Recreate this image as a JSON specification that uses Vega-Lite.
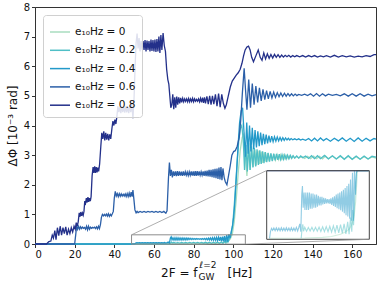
{
"$schema":"https://vega.github.io/schema/vega-lite/v6.json",
"width":341,"height":237,
"autosize":{"type":"none"},
"padding":{"left":35,"top":7,"right":5,"bottom":41},
"datasets":{
"box":[{"x":48.7,"x2":106.1,"y":-0.005,"y2":0.31}],
"links":[{"x":48.7,"y":0.31,"x2":116.7,"y2":2.476},{"x":106.1,"y":-0.005,"x2":168.4,"y2":0.159}],
"curves":[
{"e":0,"x":0,"y":0},{"e":0,"x":50,"y":0},{"e":0,"x":70,"y":0.001},{"e":0,"x":80,"y":0.004},{"e":0,"x":85,"y":0.008},{"e":0,"x":90,"y":0.018},{"e":0,"x":93,"y":0.03},{"e":0,"x":95,"y":0.043},{"e":0,"x":96.5,"y":0.065},{"e":0,"x":97.6,"y":0.1},{"e":0,"x":98.5,"y":0.17},{"e":0,"x":99.5,"y":0.33},{"e":0,"x":100.5,"y":0.75},{"e":0,"x":101.5,"y":1.5},{"e":0,"x":102.5,"y":2.4},{"e":0,"x":103.5,"y":3.15},{"e":0,"x":104.5,"y":3.6},{"e":0,"x":105.3,"y":3.7},{"e":0,"x":106.1,"y":3.0},{"e":0,"x":106.9,"y":2.3},{"e":0,"x":107.7,"y":3.3},{"e":0,"x":108.5,"y":2.5},{"e":0,"x":109.3,"y":3.25},{"e":0,"x":110.1,"y":2.6},{"e":0,"x":110.9,"y":3.2},{"e":0,"x":111.7,"y":2.65},{"e":0,"x":112.5,"y":3.15},{"e":0,"x":113.3,"y":2.7},{"e":0,"x":114.1,"y":3.12},{"e":0,"x":114.9,"y":2.74},{"e":0,"x":115.7,"y":3.09},{"e":0,"x":116.5,"y":2.77},{"e":0,"x":117.3,"y":3.07},{"e":0,"x":118.1,"y":2.79},{"e":0,"x":118.9,"y":3.05},{"e":0,"x":119.7,"y":2.81},{"e":0,"x":120.5,"y":3.03},{"e":0,"x":121.3,"y":2.83},{"e":0,"x":122.1,"y":3.02},{"e":0,"x":122.9,"y":2.85},{"e":0,"x":123.7,"y":3.01},{"e":0,"x":124.5,"y":2.86},{"e":0,"x":125.3,"y":3.0},{"e":0,"x":126.1,"y":2.87},{"e":0,"x":126.9,"y":2.99},{"e":0,"x":127.7,"y":2.88},{"e":0,"x":128.5,"y":2.98},{"e":0,"x":129.3,"y":2.89},{"e":0,"x":130.1,"y":2.97},{"e":0,"x":131,"y":2.9},{"e":0,"x":132,"y":2.96},{"e":0,"x":133,"y":2.9},{"e":0,"x":134.5,"y":2.95},{"e":0,"x":136,"y":2.89},{"e":0,"x":137.5,"y":2.96},{"e":0,"x":139,"y":2.88},{"e":0,"x":140.5,"y":2.97},{"e":0,"x":142,"y":2.88},{"e":0,"x":143.5,"y":2.96},{"e":0,"x":145,"y":2.87},{"e":0,"x":146.5,"y":2.97},{"e":0,"x":148,"y":2.88},{"e":0,"x":150,"y":2.97},{"e":0,"x":152,"y":2.87},{"e":0,"x":154,"y":2.96},{"e":0,"x":156,"y":2.87},{"e":0,"x":158,"y":2.96},{"e":0,"x":160,"y":2.86},{"e":0,"x":162,"y":2.95},{"e":0,"x":164,"y":2.86},{"e":0,"x":166,"y":2.95},{"e":0,"x":168,"y":2.87},{"e":0,"x":170,"y":2.94},{"e":0,"x":172,"y":2.9},
{"e":0.2,"x":0,"y":0},{"e":0.2,"x":68,"y":0},{"e":0.2,"x":68.5,"y":0.045},{"e":0.2,"x":68.9,"y":0.064},{"e":0.2,"x":69.3,"y":0.032},{"e":0.2,"x":70,"y":0.05},{"e":0.2,"x":71,"y":0.032},{"e":0.2,"x":72,"y":0.049},{"e":0.2,"x":73,"y":0.033},{"e":0.2,"x":74,"y":0.05},{"e":0.2,"x":75,"y":0.032},{"e":0.2,"x":76,"y":0.05},{"e":0.2,"x":77,"y":0.032},{"e":0.2,"x":78,"y":0.051},{"e":0.2,"x":79,"y":0.031},{"e":0.2,"x":80,"y":0.052},{"e":0.2,"x":81,"y":0.03},{"e":0.2,"x":82,"y":0.053},{"e":0.2,"x":83,"y":0.03},{"e":0.2,"x":84,"y":0.055},{"e":0.2,"x":85,"y":0.028},{"e":0.2,"x":86,"y":0.057},{"e":0.2,"x":87,"y":0.027},{"e":0.2,"x":88,"y":0.06},{"e":0.2,"x":89,"y":0.025},{"e":0.2,"x":90,"y":0.062},{"e":0.2,"x":91,"y":0.023},{"e":0.2,"x":92,"y":0.066},{"e":0.2,"x":93,"y":0.02},{"e":0.2,"x":94,"y":0.075},{"e":0.2,"x":94.8,"y":0.018},{"e":0.2,"x":95.6,"y":0.095},{"e":0.2,"x":96.3,"y":0.03},{"e":0.2,"x":96.8,"y":0.13},{"e":0.2,"x":97.3,"y":0.06},{"e":0.2,"x":98,"y":0.18},{"e":0.2,"x":98.8,"y":0.3},{"e":0.2,"x":99.6,"y":0.6},{"e":0.2,"x":100.4,"y":1.2},{"e":0.2,"x":101.2,"y":2.0},{"e":0.2,"x":102,"y":2.8},{"e":0.2,"x":102.8,"y":3.5},{"e":0.2,"x":103.6,"y":3.9},{"e":0.2,"x":104.3,"y":4.0},{"e":0.2,"x":105,"y":3.55},{"e":0.2,"x":105.7,"y":2.5},{"e":0.2,"x":106.4,"y":3.35},{"e":0.2,"x":107.1,"y":2.45},{"e":0.2,"x":107.8,"y":3.4},{"e":0.2,"x":108.5,"y":2.5},{"e":0.2,"x":109.2,"y":3.3},{"e":0.2,"x":109.9,"y":2.58},{"e":0.2,"x":110.6,"y":3.25},{"e":0.2,"x":111.3,"y":2.62},{"e":0.2,"x":112,"y":3.2},{"e":0.2,"x":112.7,"y":2.67},{"e":0.2,"x":113.4,"y":3.16},{"e":0.2,"x":114.1,"y":2.7},{"e":0.2,"x":114.8,"y":3.13},{"e":0.2,"x":115.5,"y":2.73},{"e":0.2,"x":116.2,"y":3.1},{"e":0.2,"x":116.9,"y":2.76},{"e":0.2,"x":117.6,"y":3.08},{"e":0.2,"x":118.3,"y":2.78},{"e":0.2,"x":119,"y":3.06},{"e":0.2,"x":119.7,"y":2.8},{"e":0.2,"x":120.4,"y":3.05},{"e":0.2,"x":121.1,"y":2.82},{"e":0.2,"x":121.8,"y":3.04},{"e":0.2,"x":122.5,"y":2.84},{"e":0.2,"x":123.2,"y":3.03},{"e":0.2,"x":123.9,"y":2.85},{"e":0.2,"x":124.6,"y":3.02},{"e":0.2,"x":125.3,"y":2.86},{"e":0.2,"x":126,"y":3.01},{"e":0.2,"x":126.7,"y":2.87},{"e":0.2,"x":127.4,"y":3.0},{"e":0.2,"x":128.1,"y":2.88},{"e":0.2,"x":128.8,"y":2.99},{"e":0.2,"x":129.5,"y":2.89},{"e":0.2,"x":130.2,"y":2.98},{"e":0.2,"x":131,"y":2.9},{"e":0.2,"x":132,"y":2.97},{"e":0.2,"x":133,"y":2.9},{"e":0.2,"x":134,"y":2.97},{"e":0.2,"x":135,"y":2.91},{"e":0.2,"x":136.5,"y":2.97},{"e":0.2,"x":138,"y":2.89},{"e":0.2,"x":139.5,"y":2.98},{"e":0.2,"x":141,"y":2.88},{"e":0.2,"x":142.5,"y":2.98},{"e":0.2,"x":144,"y":2.88},{"e":0.2,"x":146,"y":2.99},{"e":0.2,"x":148,"y":2.87},{"e":0.2,"x":150,"y":2.98},{"e":0.2,"x":152,"y":2.87},{"e":0.2,"x":154,"y":2.98},{"e":0.2,"x":156,"y":2.86},{"e":0.2,"x":158,"y":2.98},{"e":0.2,"x":160,"y":2.86},{"e":0.2,"x":162,"y":2.97},{"e":0.2,"x":164,"y":2.86},{"e":0.2,"x":166,"y":2.97},{"e":0.2,"x":168,"y":2.87},{"e":0.2,"x":170,"y":2.96},{"e":0.2,"x":172,"y":2.93},
{"e":0.4,"x":0,"y":0},{"e":0.4,"x":50.3,"y":0},{"e":0.4,"x":50.8,"y":0.03},{"e":0.4,"x":51.4,"y":0.045},{"e":0.4,"x":52,"y":0.036},{"e":0.4,"x":52.7,"y":0.047},{"e":0.4,"x":53.4,"y":0.035},{"e":0.4,"x":54.1,"y":0.048},{"e":0.4,"x":54.8,"y":0.035},{"e":0.4,"x":55.5,"y":0.047},{"e":0.4,"x":56.2,"y":0.034},{"e":0.4,"x":56.9,"y":0.048},{"e":0.4,"x":57.6,"y":0.035},{"e":0.4,"x":58.3,"y":0.047},{"e":0.4,"x":59,"y":0.034},{"e":0.4,"x":59.7,"y":0.048},{"e":0.4,"x":60.4,"y":0.035},{"e":0.4,"x":61.1,"y":0.047},{"e":0.4,"x":61.8,"y":0.034},{"e":0.4,"x":62.5,"y":0.048},{"e":0.4,"x":63.2,"y":0.035},{"e":0.4,"x":63.9,"y":0.047},{"e":0.4,"x":64.6,"y":0.034},{"e":0.4,"x":65.3,"y":0.05},{"e":0.4,"x":66,"y":0.033},{"e":0.4,"x":66.6,"y":0.048},{"e":0.4,"x":67.2,"y":0.066},{"e":0.4,"x":67.8,"y":0.03},{"e":0.4,"x":68.3,"y":0.2},{"e":0.4,"x":68.7,"y":0.24},{"e":0.4,"x":69.1,"y":0.14},{"e":0.4,"x":69.6,"y":0.21},{"e":0.4,"x":70.1,"y":0.13},{"e":0.4,"x":70.6,"y":0.21},{"e":0.4,"x":71.1,"y":0.13},{"e":0.4,"x":71.6,"y":0.21},{"e":0.4,"x":72.1,"y":0.13},{"e":0.4,"x":72.6,"y":0.21},{"e":0.4,"x":73.1,"y":0.135},{"e":0.4,"x":73.6,"y":0.205},{"e":0.4,"x":74.1,"y":0.135},{"e":0.4,"x":74.6,"y":0.205},{"e":0.4,"x":75.1,"y":0.14},{"e":0.4,"x":75.6,"y":0.2},{"e":0.4,"x":76.1,"y":0.14},{"e":0.4,"x":76.6,"y":0.2},{"e":0.4,"x":77.1,"y":0.145},{"e":0.4,"x":77.6,"y":0.195},{"e":0.4,"x":78.1,"y":0.15},{"e":0.4,"x":78.6,"y":0.19},{"e":0.4,"x":79.1,"y":0.15},{"e":0.4,"x":79.6,"y":0.19},{"e":0.4,"x":80.1,"y":0.155},{"e":0.4,"x":80.6,"y":0.185},{"e":0.4,"x":81.1,"y":0.157},{"e":0.4,"x":81.6,"y":0.183},{"e":0.4,"x":82.1,"y":0.16},{"e":0.4,"x":82.6,"y":0.18},{"e":0.4,"x":83.1,"y":0.16},{"e":0.4,"x":83.6,"y":0.18},{"e":0.4,"x":84.1,"y":0.157},{"e":0.4,"x":84.6,"y":0.183},{"e":0.4,"x":85.1,"y":0.153},{"e":0.4,"x":85.6,"y":0.188},{"e":0.4,"x":86.1,"y":0.148},{"e":0.4,"x":86.6,"y":0.193},{"e":0.4,"x":87.1,"y":0.143},{"e":0.4,"x":87.6,"y":0.2},{"e":0.4,"x":88.1,"y":0.138},{"e":0.4,"x":88.6,"y":0.205},{"e":0.4,"x":89.1,"y":0.133},{"e":0.4,"x":89.6,"y":0.21},{"e":0.4,"x":90.1,"y":0.128},{"e":0.4,"x":90.6,"y":0.215},{"e":0.4,"x":91.1,"y":0.122},{"e":0.4,"x":91.6,"y":0.222},{"e":0.4,"x":92.1,"y":0.115},{"e":0.4,"x":92.6,"y":0.23},{"e":0.4,"x":93.1,"y":0.105},{"e":0.4,"x":93.6,"y":0.24},{"e":0.4,"x":94.1,"y":0.1},{"e":0.4,"x":94.6,"y":0.25},{"e":0.4,"x":95.1,"y":0.09},{"e":0.4,"x":95.6,"y":0.27},{"e":0.4,"x":96.1,"y":0.08},{"e":0.4,"x":96.7,"y":0.3},{"e":0.4,"x":97.2,"y":0.08},{"e":0.4,"x":97.8,"y":0.33},{"e":0.4,"x":98.4,"y":0.2},{"e":0.4,"x":99,"y":0.42},{"e":0.4,"x":99.6,"y":0.6},{"e":0.4,"x":100.2,"y":0.9},{"e":0.4,"x":100.8,"y":1.4},{"e":0.4,"x":101.6,"y":2.3},{"e":0.4,"x":102.4,"y":3.3},{"e":0.4,"x":103.2,"y":4.1},{"e":0.4,"x":104,"y":4.5},{"e":0.4,"x":104.7,"y":4.6},{"e":0.4,"x":105.4,"y":3.8},{"e":0.4,"x":106.1,"y":2.95},{"e":0.4,"x":106.8,"y":4.1},{"e":0.4,"x":107.5,"y":3.05},{"e":0.4,"x":108.2,"y":4.0},{"e":0.4,"x":108.9,"y":3.12},{"e":0.4,"x":109.6,"y":3.92},{"e":0.4,"x":110.3,"y":3.2},{"e":0.4,"x":111,"y":3.85},{"e":0.4,"x":111.7,"y":3.26},{"e":0.4,"x":112.4,"y":3.8},{"e":0.4,"x":113.1,"y":3.3},{"e":0.4,"x":113.8,"y":3.76},{"e":0.4,"x":114.5,"y":3.34},{"e":0.4,"x":115.2,"y":3.72},{"e":0.4,"x":115.9,"y":3.37},{"e":0.4,"x":116.6,"y":3.69},{"e":0.4,"x":117.3,"y":3.4},{"e":0.4,"x":118,"y":3.66},{"e":0.4,"x":118.7,"y":3.43},{"e":0.4,"x":119.4,"y":3.64},{"e":0.4,"x":120.1,"y":3.45},{"e":0.4,"x":120.8,"y":3.62},{"e":0.4,"x":121.5,"y":3.47},{"e":0.4,"x":122.2,"y":3.61},{"e":0.4,"x":122.9,"y":3.48},{"e":0.4,"x":123.6,"y":3.6},{"e":0.4,"x":124.3,"y":3.49},{"e":0.4,"x":125,"y":3.59},{"e":0.4,"x":125.7,"y":3.5},{"e":0.4,"x":126.4,"y":3.58},{"e":0.4,"x":127.1,"y":3.51},{"e":0.4,"x":127.8,"y":3.57},{"e":0.4,"x":128.5,"y":3.51},{"e":0.4,"x":129.2,"y":3.56},{"e":0.4,"x":130,"y":3.52},{"e":0.4,"x":131,"y":3.55},{"e":0.4,"x":132,"y":3.52},{"e":0.4,"x":133,"y":3.55},{"e":0.4,"x":134,"y":3.51},{"e":0.4,"x":135,"y":3.54},{"e":0.4,"x":136.5,"y":3.5},{"e":0.4,"x":138,"y":3.56},{"e":0.4,"x":139.5,"y":3.48},{"e":0.4,"x":141,"y":3.57},{"e":0.4,"x":142.5,"y":3.48},{"e":0.4,"x":144,"y":3.58},{"e":0.4,"x":145.5,"y":3.49},{"e":0.4,"x":147,"y":3.56},{"e":0.4,"x":149,"y":3.47},{"e":0.4,"x":151,"y":3.57},{"e":0.4,"x":153,"y":3.48},{"e":0.4,"x":155,"y":3.58},{"e":0.4,"x":157,"y":3.47},{"e":0.4,"x":159,"y":3.57},{"e":0.4,"x":161,"y":3.46},{"e":0.4,"x":163,"y":3.58},{"e":0.4,"x":165,"y":3.47},{"e":0.4,"x":167,"y":3.57},{"e":0.4,"x":169,"y":3.48},{"e":0.4,"x":171,"y":3.56},{"e":0.4,"x":172,"y":3.54},
{"e":0.6,"x":0,"y":0},{"e":0.6,"x":20,"y":0},{"e":0.6,"x":20.6,"y":0.35},{"e":0.6,"x":21,"y":0.62},{"e":0.6,"x":21.5,"y":0.5},{"e":0.6,"x":22,"y":0.6},{"e":0.6,"x":22.5,"y":0.5},{"e":0.6,"x":23,"y":0.58},{"e":0.6,"x":23.5,"y":0.52},{"e":0.6,"x":24,"y":0.57},{"e":0.6,"x":24.5,"y":0.53},{"e":0.6,"x":25,"y":0.56},{"e":0.6,"x":25.5,"y":0.5},{"e":0.6,"x":26,"y":0.6},{"e":0.6,"x":26.5,"y":0.48},{"e":0.6,"x":27,"y":0.6},{"e":0.6,"x":27.5,"y":0.5},{"e":0.6,"x":28,"y":0.57},{"e":0.6,"x":28.5,"y":0.53},{"e":0.6,"x":29,"y":0.56},{"e":0.6,"x":29.5,"y":0.54},{"e":0.6,"x":30,"y":0.57},{"e":0.6,"x":30.5,"y":0.52},{"e":0.6,"x":31,"y":0.58},{"e":0.6,"x":31.5,"y":0.51},{"e":0.6,"x":32,"y":0.6},{"e":0.6,"x":32.5,"y":0.52},{"e":0.6,"x":33,"y":0.65},{"e":0.6,"x":33.5,"y":0.9},{"e":0.6,"x":34,"y":1.0},{"e":0.6,"x":34.5,"y":0.95},{"e":0.6,"x":35,"y":1.0},{"e":0.6,"x":35.5,"y":0.95},{"e":0.6,"x":36,"y":1.01},{"e":0.6,"x":36.5,"y":0.94},{"e":0.6,"x":37,"y":1.02},{"e":0.6,"x":37.5,"y":0.93},{"e":0.6,"x":38,"y":1.0},{"e":0.6,"x":38.5,"y":0.95},{"e":0.6,"x":39,"y":1.02},{"e":0.6,"x":39.5,"y":1.1},{"e":0.6,"x":40,"y":1.55},{"e":0.6,"x":40.5,"y":1.78},{"e":0.6,"x":41,"y":1.62},{"e":0.6,"x":41.5,"y":1.7},{"e":0.6,"x":42,"y":1.6},{"e":0.6,"x":42.5,"y":1.7},{"e":0.6,"x":43,"y":1.61},{"e":0.6,"x":43.5,"y":1.69},{"e":0.6,"x":44,"y":1.62},{"e":0.6,"x":44.5,"y":1.68},{"e":0.6,"x":45,"y":1.62},{"e":0.6,"x":45.5,"y":1.69},{"e":0.6,"x":46,"y":1.6},{"e":0.6,"x":46.5,"y":1.7},{"e":0.6,"x":47,"y":1.6},{"e":0.6,"x":47.5,"y":1.72},{"e":0.6,"x":48,"y":1.58},{"e":0.6,"x":48.5,"y":1.75},{"e":0.6,"x":49,"y":1.6},{"e":0.6,"x":49.4,"y":1.82},{"e":0.6,"x":49.9,"y":1.5},{"e":0.6,"x":50.4,"y":1.15},{"e":0.6,"x":51,"y":1.05},{"e":0.6,"x":51.5,"y":1.1},{"e":0.6,"x":52,"y":1.06},{"e":0.6,"x":53,"y":1.1},{"e":0.6,"x":54,"y":1.07},{"e":0.6,"x":55,"y":1.1},{"e":0.6,"x":56,"y":1.07},{"e":0.6,"x":57,"y":1.1},{"e":0.6,"x":58,"y":1.08},{"e":0.6,"x":59,"y":1.1},{"e":0.6,"x":60,"y":1.07},{"e":0.6,"x":61,"y":1.1},{"e":0.6,"x":62,"y":1.07},{"e":0.6,"x":63,"y":1.1},{"e":0.6,"x":64,"y":1.06},{"e":0.6,"x":65,"y":1.1},{"e":0.6,"x":66,"y":1.04},{"e":0.6,"x":66.6,"y":1.12},{"e":0.6,"x":67.3,"y":2.2},{"e":0.6,"x":67.8,"y":2.75},{"e":0.6,"x":68.3,"y":2.3},{"e":0.6,"x":68.8,"y":2.5},{"e":0.6,"x":69.3,"y":2.25},{"e":0.6,"x":69.8,"y":2.45},{"e":0.6,"x":70.3,"y":2.3},{"e":0.6,"x":70.8,"y":2.45},{"e":0.6,"x":71.3,"y":2.29},{"e":0.6,"x":71.8,"y":2.46},{"e":0.6,"x":72.3,"y":2.3},{"e":0.6,"x":72.8,"y":2.45},{"e":0.6,"x":73.3,"y":2.31},{"e":0.6,"x":73.8,"y":2.44},{"e":0.6,"x":74.3,"y":2.3},{"e":0.6,"x":74.8,"y":2.45},{"e":0.6,"x":75.3,"y":2.31},{"e":0.6,"x":75.8,"y":2.44},{"e":0.6,"x":76.3,"y":2.32},{"e":0.6,"x":76.8,"y":2.43},{"e":0.6,"x":77.3,"y":2.31},{"e":0.6,"x":77.8,"y":2.44},{"e":0.6,"x":78.3,"y":2.32},{"e":0.6,"x":78.8,"y":2.45},{"e":0.6,"x":79.3,"y":2.31},{"e":0.6,"x":79.8,"y":2.45},{"e":0.6,"x":80.3,"y":2.3},{"e":0.6,"x":80.8,"y":2.46},{"e":0.6,"x":81.3,"y":2.3},{"e":0.6,"x":81.8,"y":2.46},{"e":0.6,"x":82.3,"y":2.31},{"e":0.6,"x":82.8,"y":2.45},{"e":0.6,"x":83.3,"y":2.32},{"e":0.6,"x":83.8,"y":2.44},{"e":0.6,"x":84.3,"y":2.32},{"e":0.6,"x":84.8,"y":2.45},{"e":0.6,"x":85.3,"y":2.3},{"e":0.6,"x":85.8,"y":2.47},{"e":0.6,"x":86.3,"y":2.29},{"e":0.6,"x":86.8,"y":2.48},{"e":0.6,"x":87.3,"y":2.28},{"e":0.6,"x":87.8,"y":2.5},{"e":0.6,"x":88.3,"y":2.27},{"e":0.6,"x":88.8,"y":2.5},{"e":0.6,"x":89.3,"y":2.26},{"e":0.6,"x":89.8,"y":2.52},{"e":0.6,"x":90.3,"y":2.24},{"e":0.6,"x":90.8,"y":2.54},{"e":0.6,"x":91.3,"y":2.22},{"e":0.6,"x":91.8,"y":2.55},{"e":0.6,"x":92.3,"y":2.2},{"e":0.6,"x":92.8,"y":2.58},{"e":0.6,"x":93.3,"y":2.18},{"e":0.6,"x":93.8,"y":2.6},{"e":0.6,"x":94.3,"y":2.15},{"e":0.6,"x":94.8,"y":2.55},{"e":0.6,"x":95.4,"y":2.25},{"e":0.6,"x":96,"y":2.1},{"e":0.6,"x":96.8,"y":2.0},{"e":0.6,"x":97.6,"y":2.3},{"e":0.6,"x":98.5,"y":2.65},{"e":0.6,"x":99.3,"y":3.0},{"e":0.6,"x":100.2,"y":3.12},{"e":0.6,"x":101,"y":3.15},{"e":0.6,"x":102,"y":3.3},{"e":0.6,"x":103,"y":3.6},{"e":0.6,"x":103.8,"y":4.2},{"e":0.6,"x":104.6,"y":5.1},{"e":0.6,"x":105.5,"y":5.93},{"e":0.6,"x":106.2,"y":5.2},{"e":0.6,"x":106.9,"y":4.53},{"e":0.6,"x":107.8,"y":5.55},{"e":0.6,"x":108.7,"y":4.6},{"e":0.6,"x":109.6,"y":5.42},{"e":0.6,"x":110.5,"y":4.7},{"e":0.6,"x":111.4,"y":5.33},{"e":0.6,"x":112.3,"y":4.78},{"e":0.6,"x":113.2,"y":5.27},{"e":0.6,"x":114.1,"y":4.83},{"e":0.6,"x":115,"y":5.22},{"e":0.6,"x":115.9,"y":4.87},{"e":0.6,"x":116.8,"y":5.18},{"e":0.6,"x":117.7,"y":4.9},{"e":0.6,"x":118.6,"y":5.15},{"e":0.6,"x":119.5,"y":4.93},{"e":0.6,"x":120.4,"y":5.13},{"e":0.6,"x":121.3,"y":4.95},{"e":0.6,"x":122.2,"y":5.11},{"e":0.6,"x":123.1,"y":4.97},{"e":0.6,"x":124,"y":5.1},{"e":0.6,"x":124.9,"y":4.98},{"e":0.6,"x":125.8,"y":5.09},{"e":0.6,"x":126.7,"y":4.99},{"e":0.6,"x":127.6,"y":5.08},{"e":0.6,"x":128.5,"y":5.0},{"e":0.6,"x":129.4,"y":5.07},{"e":0.6,"x":130.3,"y":5.0},{"e":0.6,"x":131.2,"y":5.06},{"e":0.6,"x":132.1,"y":5.01},{"e":0.6,"x":133,"y":5.05},{"e":0.6,"x":134.5,"y":5.02},{"e":0.6,"x":136,"y":5.06},{"e":0.6,"x":137.5,"y":5.01},{"e":0.6,"x":139,"y":5.07},{"e":0.6,"x":140.5,"y":4.99},{"e":0.6,"x":142,"y":5.08},{"e":0.6,"x":143.5,"y":4.99},{"e":0.6,"x":145,"y":5.07},{"e":0.6,"x":146.5,"y":5.0},{"e":0.6,"x":148,"y":5.06},{"e":0.6,"x":150,"y":5.02},{"e":0.6,"x":152,"y":5.05},{"e":0.6,"x":154,"y":5.0},{"e":0.6,"x":156,"y":5.07},{"e":0.6,"x":158,"y":4.99},{"e":0.6,"x":160,"y":5.07},{"e":0.6,"x":162,"y":4.99},{"e":0.6,"x":164,"y":5.07},{"e":0.6,"x":166,"y":4.99},{"e":0.6,"x":168,"y":5.06},{"e":0.6,"x":170,"y":5.0},{"e":0.6,"x":172,"y":5.04},
{"e":0.8,"x":0,"y":0},{"e":0.8,"x":5.8,"y":0},{"e":0.8,"x":7,"y":0.08},{"e":0.8,"x":8,"y":0.1},{"e":0.8,"x":8.7,"y":0.3},{"e":0.8,"x":9.3,"y":0.2},{"e":0.8,"x":10,"y":0.45},{"e":0.8,"x":10.6,"y":0.15},{"e":0.8,"x":11.3,"y":0.55},{"e":0.8,"x":12,"y":0.28},{"e":0.8,"x":12.7,"y":0.6},{"e":0.8,"x":13.4,"y":0.3},{"e":0.8,"x":14.1,"y":0.55},{"e":0.8,"x":14.8,"y":0.35},{"e":0.8,"x":15.5,"y":0.58},{"e":0.8,"x":16.2,"y":0.3},{"e":0.8,"x":16.9,"y":0.5},{"e":0.8,"x":17.6,"y":0.35},{"e":0.8,"x":18.3,"y":0.55},{"e":0.8,"x":19,"y":0.4},{"e":0.8,"x":19.7,"y":0.6},{"e":0.8,"x":20.3,"y":0.5},{"e":0.8,"x":20.8,"y":0.72},{"e":0.8,"x":21.3,"y":0.6},{"e":0.8,"x":21.8,"y":0.75},{"e":0.8,"x":22.3,"y":1.05},{"e":0.8,"x":22.7,"y":0.92},{"e":0.8,"x":23.1,"y":1.08},{"e":0.8,"x":23.5,"y":0.95},{"e":0.8,"x":23.9,"y":1.05},{"e":0.8,"x":24.3,"y":0.97},{"e":0.8,"x":24.7,"y":1.1},{"e":0.8,"x":25.1,"y":1.45},{"e":0.8,"x":25.5,"y":1.38},{"e":0.8,"x":25.9,"y":1.55},{"e":0.8,"x":26.3,"y":1.4},{"e":0.8,"x":26.7,"y":1.58},{"e":0.8,"x":27.1,"y":1.42},{"e":0.8,"x":27.5,"y":1.55},{"e":0.8,"x":27.9,"y":1.45},{"e":0.8,"x":28.3,"y":1.6},{"e":0.8,"x":28.8,"y":2.3},{"e":0.8,"x":29.3,"y":2.6},{"e":0.8,"x":29.7,"y":2.4},{"e":0.8,"x":30.1,"y":2.62},{"e":0.8,"x":30.5,"y":2.4},{"e":0.8,"x":30.9,"y":2.6},{"e":0.8,"x":31.3,"y":2.42},{"e":0.8,"x":31.7,"y":2.58},{"e":0.8,"x":32.1,"y":2.45},{"e":0.8,"x":32.6,"y":2.7},{"e":0.8,"x":33.2,"y":3.3},{"e":0.8,"x":33.7,"y":3.75},{"e":0.8,"x":34.2,"y":3.55},{"e":0.8,"x":34.7,"y":3.8},{"e":0.8,"x":35.2,"y":3.5},{"e":0.8,"x":35.7,"y":3.75},{"e":0.8,"x":36.2,"y":3.52},{"e":0.8,"x":36.7,"y":3.72},{"e":0.8,"x":37.2,"y":3.5},{"e":0.8,"x":37.7,"y":3.7},{"e":0.8,"x":38.2,"y":3.55},{"e":0.8,"x":38.8,"y":3.9},{"e":0.8,"x":39.3,"y":4.15},{"e":0.8,"x":39.8,"y":4.0},{"e":0.8,"x":40.3,"y":4.2},{"e":0.8,"x":40.8,"y":4.05},{"e":0.8,"x":41.3,"y":4.3},{"e":0.8,"x":41.8,"y":4.65},{"e":0.8,"x":42.3,"y":4.45},{"e":0.8,"x":42.8,"y":4.62},{"e":0.8,"x":43.3,"y":4.42},{"e":0.8,"x":43.8,"y":4.65},{"e":0.8,"x":44.3,"y":4.45},{"e":0.8,"x":44.8,"y":4.62},{"e":0.8,"x":45.3,"y":4.43},{"e":0.8,"x":45.8,"y":4.65},{"e":0.8,"x":46.3,"y":4.44},{"e":0.8,"x":46.8,"y":4.63},{"e":0.8,"x":47.3,"y":4.42},{"e":0.8,"x":47.8,"y":4.68},{"e":0.8,"x":48.3,"y":4.45},{"e":0.8,"x":48.8,"y":4.75},{"e":0.8,"x":49.4,"y":4.25},{"e":0.8,"x":49.9,"y":4.8},{"e":0.8,"x":50.5,"y":6.0},{"e":0.8,"x":51,"y":6.8},{"e":0.8,"x":51.5,"y":7.1},{"e":0.8,"x":52,"y":6.6},{"e":0.8,"x":52.5,"y":6.95},{"e":0.8,"x":53,"y":6.5},{"e":0.8,"x":53.5,"y":6.85},{"e":0.8,"x":54,"y":6.55},{"e":0.8,"x":54.5,"y":6.85},{"e":0.8,"x":55,"y":6.55},{"e":0.8,"x":55.5,"y":6.88},{"e":0.8,"x":56,"y":6.5},{"e":0.8,"x":56.5,"y":6.87},{"e":0.8,"x":57,"y":6.55},{"e":0.8,"x":57.5,"y":6.85},{"e":0.8,"x":58,"y":6.5},{"e":0.8,"x":58.5,"y":6.9},{"e":0.8,"x":59,"y":6.52},{"e":0.8,"x":59.5,"y":6.88},{"e":0.8,"x":60,"y":6.5},{"e":0.8,"x":60.5,"y":6.9},{"e":0.8,"x":61,"y":6.48},{"e":0.8,"x":61.5,"y":6.92},{"e":0.8,"x":62,"y":6.5},{"e":0.8,"x":62.5,"y":7.0},{"e":0.8,"x":63,"y":6.45},{"e":0.8,"x":63.5,"y":7.05},{"e":0.8,"x":64,"y":6.55},{"e":0.8,"x":64.6,"y":7.12},{"e":0.8,"x":65.2,"y":6.7},{"e":0.8,"x":65.8,"y":6.5},{"e":0.8,"x":66.4,"y":5.9},{"e":0.8,"x":67,"y":5.55},{"e":0.8,"x":67.5,"y":5.4},{"e":0.8,"x":68,"y":5.0},{"e":0.8,"x":68.5,"y":4.6},{"e":0.8,"x":69,"y":4.7},{"e":0.8,"x":69.5,"y":5.05},{"e":0.8,"x":70,"y":4.55},{"e":0.8,"x":70.5,"y":4.95},{"e":0.8,"x":71,"y":4.6},{"e":0.8,"x":71.5,"y":4.98},{"e":0.8,"x":72,"y":4.7},{"e":0.8,"x":72.5,"y":4.95},{"e":0.8,"x":73,"y":4.75},{"e":0.8,"x":73.5,"y":4.93},{"e":0.8,"x":74,"y":4.78},{"e":0.8,"x":74.5,"y":4.92},{"e":0.8,"x":75,"y":4.8},{"e":0.8,"x":75.5,"y":4.9},{"e":0.8,"x":76,"y":4.81},{"e":0.8,"x":76.5,"y":4.9},{"e":0.8,"x":77,"y":4.8},{"e":0.8,"x":77.5,"y":4.91},{"e":0.8,"x":78,"y":4.8},{"e":0.8,"x":78.5,"y":4.9},{"e":0.8,"x":79,"y":4.81},{"e":0.8,"x":79.5,"y":4.92},{"e":0.8,"x":80,"y":4.8},{"e":0.8,"x":80.5,"y":4.9},{"e":0.8,"x":81,"y":4.82},{"e":0.8,"x":81.5,"y":4.88},{"e":0.8,"x":82,"y":4.82},{"e":0.8,"x":82.5,"y":4.9},{"e":0.8,"x":83,"y":4.8},{"e":0.8,"x":83.5,"y":4.92},{"e":0.8,"x":84,"y":4.78},{"e":0.8,"x":84.5,"y":4.94},{"e":0.8,"x":85,"y":4.76},{"e":0.8,"x":85.5,"y":4.95},{"e":0.8,"x":86,"y":4.75},{"e":0.8,"x":86.7,"y":4.98},{"e":0.8,"x":87.4,"y":4.72},{"e":0.8,"x":88.1,"y":5.0},{"e":0.8,"x":88.8,"y":4.7},{"e":0.8,"x":89.5,"y":5.0},{"e":0.8,"x":90.2,"y":4.72},{"e":0.8,"x":91,"y":5.05},{"e":0.8,"x":91.8,"y":4.65},{"e":0.8,"x":92.6,"y":5.08},{"e":0.8,"x":93.4,"y":4.62},{"e":0.8,"x":94.2,"y":5.05},{"e":0.8,"x":95,"y":4.75},{"e":0.8,"x":95.8,"y":4.58},{"e":0.8,"x":96.5,"y":4.7},{"e":0.8,"x":97.5,"y":5.0},{"e":0.8,"x":98.5,"y":5.3},{"e":0.8,"x":99.5,"y":5.5},{"e":0.8,"x":100.5,"y":5.6},{"e":0.8,"x":101.5,"y":5.7},{"e":0.8,"x":102.5,"y":5.78},{"e":0.8,"x":103.5,"y":5.9},{"e":0.8,"x":104.4,"y":6.1},{"e":0.8,"x":105.2,"y":6.35},{"e":0.8,"x":106,"y":6.55},{"e":0.8,"x":106.9,"y":6.65},{"e":0.8,"x":107.7,"y":6.68},{"e":0.8,"x":108.5,"y":6.55},{"e":0.8,"x":109.3,"y":6.3},{"e":0.8,"x":110.2,"y":6.15},{"e":0.8,"x":111.4,"y":6.35},{"e":0.8,"x":112.6,"y":6.55},{"e":0.8,"x":113.6,"y":6.3},{"e":0.8,"x":114.5,"y":6.2},{"e":0.8,"x":115.4,"y":6.45},{"e":0.8,"x":116.3,"y":6.25},{"e":0.8,"x":117.2,"y":6.42},{"e":0.8,"x":118.1,"y":6.27},{"e":0.8,"x":119,"y":6.4},{"e":0.8,"x":119.9,"y":6.28},{"e":0.8,"x":120.8,"y":6.4},{"e":0.8,"x":121.7,"y":6.3},{"e":0.8,"x":122.6,"y":6.39},{"e":0.8,"x":123.5,"y":6.3},{"e":0.8,"x":124.4,"y":6.38},{"e":0.8,"x":125.3,"y":6.31},{"e":0.8,"x":126.2,"y":6.37},{"e":0.8,"x":127.1,"y":6.32},{"e":0.8,"x":128,"y":6.37},{"e":0.8,"x":129,"y":6.31},{"e":0.8,"x":130,"y":6.36},{"e":0.8,"x":131,"y":6.32},{"e":0.8,"x":132,"y":6.36},{"e":0.8,"x":133.5,"y":6.32},{"e":0.8,"x":135,"y":6.36},{"e":0.8,"x":136.5,"y":6.31},{"e":0.8,"x":138,"y":6.36},{"e":0.8,"x":139.5,"y":6.32},{"e":0.8,"x":141,"y":6.36},{"e":0.8,"x":142.5,"y":6.31},{"e":0.8,"x":144,"y":6.35},{"e":0.8,"x":145.5,"y":6.32},{"e":0.8,"x":147,"y":6.36},{"e":0.8,"x":149,"y":6.31},{"e":0.8,"x":151,"y":6.37},{"e":0.8,"x":153,"y":6.31},{"e":0.8,"x":155,"y":6.36},{"e":0.8,"x":157,"y":6.32},{"e":0.8,"x":159,"y":6.35},{"e":0.8,"x":161,"y":6.31},{"e":0.8,"x":163,"y":6.34},{"e":0.8,"x":165,"y":6.32},{"e":0.8,"x":167,"y":6.36},{"e":0.8,"x":169,"y":6.33},{"e":0.8,"x":171,"y":6.39},{"e":0.8,"x":172,"y":6.39}
]},
"layer":[
{"layer":[
{"data":{"name":"curves"},"mark":{"type":"line","strokeWidth":1.3},
"encoding":{
"x":{"field":"x","type":"quantitative","scale":{"domain":[0,172],"nice":false,"zero":false},
"axis":{"values":[0,20,40,60,80,100,120,140,160],"format":"d","labelOverlap":false,"title":"2F = f","titleX":162,"titleY":32,"titleAlign":"right","titleAnchor":null,"titleBaseline":"alphabetic"}},
"y":{"field":"y","type":"quantitative","scale":{"domain":[0,8],"nice":false},
"axis":{"values":[0,1,2,3,4,5,6,7,8],"format":"d","labelOverlap":false,"title":"ΔΦ [10⁻³ rad]","titleX":-23,"titleBaseline":"middle"}},
"color":{"field":"e","type":"nominal","scale":{"domain":[0,0.2,0.4,0.6,0.8],"range":["#a8ddbf","#4fbfc6","#2399c9","#2b5fa8","#23308a"]},
"legend":{"title":null,"orient":"top-left","offset":8,"labelExpr":"'e₁₀Hz = ' + datum.label"}}}},
{"data":{"name":"box"},"mark":{"type":"rect","fillOpacity":0,"stroke":"#8c8c8c","strokeWidth":1},
"encoding":{"x":{"field":"x","type":"quantitative","scale":{"domain":[0,172],"nice":false,"zero":false},
"axis":{"values":[0,20,40,60,80,100,120,140,160],"format":"d","labelOverlap":false,"title":"2F = f","titleX":162,"titleY":32,"titleAlign":"right","titleAnchor":null,"titleBaseline":"alphabetic"}},"x2":{"field":"x2"},
"y":{"field":"y","type":"quantitative","scale":{"domain":[0,8],"nice":false},
"axis":{"values":[0,1,2,3,4,5,6,7,8],"format":"d","labelOverlap":false,"title":"ΔΦ [10⁻³ rad]","titleX":-23,"titleBaseline":"middle"}},"y2":{"field":"y2"}}}
]},
{"layer":[
{"data":{"name":"curves"},"transform":[{"filter":{"field":"x","range":[48.7,106.1]}}],"mark":{"type":"line","strokeWidth":1.1,"opacity":0.5},
"encoding":{
"x":{"field":"x","type":"quantitative","scale":{"domain":[48.7,106.1],"range":[231.7,334.3],"nice":false,"zero":false},
"axis":{"orient":"bottom","domain":false,"ticks":false,"labels":false,"grid":false,"title":"GW","titleFontSize":9,"titleX":163,"titleY":35,"titleAlign":"left","titleAnchor":null,"titleBaseline":"alphabetic"}},
"y":{"field":"y","type":"quantitative","scale":{"domain":[-0.005,0.31],"range":[232.3,163.7],"nice":false,"zero":false,"clamp":true},
"axis":{"orient":"left","domain":false,"ticks":false,"labels":false,"grid":false,"title":"ℓ=2","titleFontSize":9,"titleAngle":0,"titleX":164,"titleY":260,"titleAlign":"left","titleAnchor":null,"titleBaseline":"alphabetic"}},
"color":{"field":"e","type":"nominal","legend":null}}},
{"data":{"name":"box"},"mark":{"type":"rect","fillOpacity":0,"stroke":"#444444","strokeWidth":1},
"encoding":{"x":{"field":"x","type":"quantitative","scale":{"domain":[48.7,106.1],"range":[231.7,334.3],"nice":false,"zero":false},
"axis":{"orient":"bottom","domain":false,"ticks":false,"labels":false,"grid":false,"title":"GW","titleFontSize":9,"titleX":163,"titleY":35,"titleAlign":"left","titleAnchor":null,"titleBaseline":"alphabetic"}},"x2":{"field":"x2"},
"y":{"field":"y","type":"quantitative","scale":{"domain":[-0.005,0.31],"range":[232.3,163.7],"nice":false,"zero":false,"clamp":true},
"axis":{"orient":"left","domain":false,"ticks":false,"labels":false,"grid":false,"title":"ℓ=2","titleFontSize":9,"titleAngle":0,"titleX":164,"titleY":260,"titleAlign":"left","titleAnchor":null,"titleBaseline":"alphabetic"}},"y2":{"field":"y2"}}}
]},
{"data":{"name":"links"},"mark":{"type":"rule","stroke":"#999999","strokeWidth":0.8},
"encoding":{"x":{"field":"x","type":"quantitative","scale":{"domain":[0,172],"nice":false,"zero":false},
"axis":{"orient":"bottom","domain":false,"ticks":false,"labels":false,"grid":false,"title":"[Hz]","titleX":192,"titleY":32,"titleAlign":"left","titleAnchor":null,"titleBaseline":"alphabetic"}},"x2":{"field":"x2"},
"y":{"field":"y","type":"quantitative","scale":{"domain":[0,8],"nice":false},"axis":null},"y2":{"field":"y2"}}}
],
"resolve":{"scale":{"x":"independent","y":"independent"}},
"config":{
"font":"DejaVu Sans",
"view":{"stroke":"#333333","strokeWidth":1},
"axis":{"grid":false,"domainColor":"#333333","tickColor":"#333333","labelColor":"#111111","titleColor":"#111111","labelFontSize":10,"titleFontSize":12,"titleFontWeight":"normal","tickSize":3.5,"labelPadding":2,"domainWidth":1,"tickWidth":1},
"legend":{"symbolType":"stroke","symbolSize":400,"symbolStrokeWidth":1.5,"symbolOpacity":1,"labelFontSize":10.5,"labelColor":"#111111","labelOffset":4,"rowPadding":1.3,"padding":6,"strokeColor":"#d0d0d0","fillColor":"rgba(255,255,255,0.85)","cornerRadius":3}
}
}
